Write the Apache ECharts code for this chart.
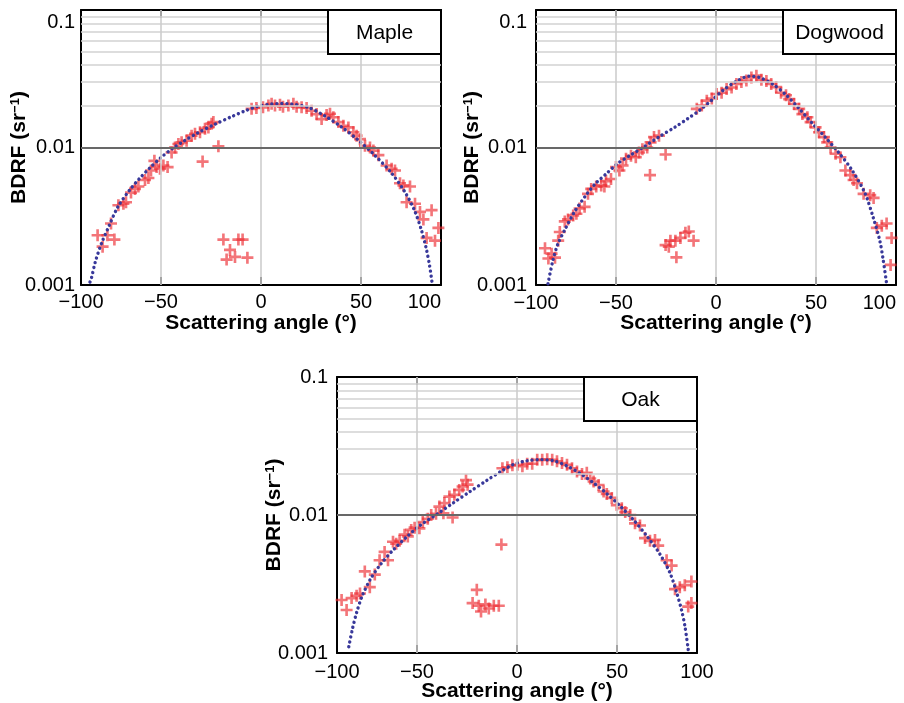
<!DOCTYPE html>
<html><head><meta charset="utf-8">
<script src="https://cdn.jsdelivr.net/npm/echarts@6/dist/echarts.min.js"></script>
<style>html,body{margin:0;padding:0;background:#fff}#c{width:904px;height:703px}</style>
</head><body><div id="c"></div>
<script>
// ---------- data ----------
const panelNames = ['Maple', 'Dogwood', 'Oak'];
const xTickValues = [-50, 0, 50];
const xLabelValues = [-90, -50, 0, 50, 90];
const xLabelTexts = ['−100', '−50', '0', '50', '100'];
const yMinorGrid = [0.002,0.003,0.004,0.005,0.006,0.007,0.008,0.009,0.02,0.03,0.04,0.05,0.06,0.07,0.08,0.09];
const yMajorGrid = [0.01];

const mapleMeasured = [[-81.7,0.0023],[-79.2,0.0019],[-76.8,0.0023],[-73.3,0.00214],[-75,0.0028],[-71.3,0.0038],[-68.8,0.0039],[-67.5,0.0040],[-65,0.0047],[-63,0.0050],[-61.3,0.0052],[-58,0.0058],[-56.3,0.0060],[-55,0.0068],[-53.3,0.0080],[-52.2,0.0072],[-50.5,0.0070],[-48.8,0.0074],[-46.7,0.0072],[-44.7,0.0092],[-43,0.0100],[-41.3,0.0106],[-39.7,0.0109],[-37.2,0.0112],[-34.7,0.0122],[-33,0.0126],[-30.5,0.0129],[-28,0.0137],[-26.3,0.0140],[-24.7,0.0149],[-23.8,0.0153],[-21.3,0.0102],[-29.2,0.0079],
[-18.8,0.00214],[-11.3,0.00214],[-9.2,0.00214],[-15.5,0.0018],[-17.2,0.00153],[-13,0.0016],[-6.8,0.00158],
[-4.7,0.0191],[-2.3,0.0194],[1,0.0196],[3.7,0.0202],[5.3,0.0208],[7,0.0202],[9.5,0.0205],[11,0.0198],[13.7,0.0202],[16.2,0.0208],[17.8,0.0198],[20.3,0.0196],[22.8,0.0194],[25.3,0.0185],[27.8,0.0175],[30.3,0.0161],[32.8,0.0172],[34.5,0.0176],[36.2,0.0166],[38.7,0.0153],[41.2,0.0144],[43.7,0.0140],[46.2,0.0129],[47.8,0.0122],[49.5,0.0115],[52,0.0103],[54.5,0.0100],[56.2,0.0095],[58.7,0.0088],[62.8,0.0074],[65.3,0.0070],[67,0.0068],[69.5,0.0055],[71.2,0.0053],[74.5,0.0052],[72.8,0.0040],[77,0.0039],[79.5,0.0034],[81.2,0.0030],[85.3,0.0035],[82.8,0.0022],[87,0.0021],[88.7,0.0026]];
const mapleModel = [[-85.5,0.00105],[-84.8,0.00112],[-82.8,0.00148],[-79.8,0.00200],[-75.7,0.00275],[-71.5,0.00372],[-65.7,0.0049],[-60.7,0.00596],[-55.7,0.00708],[-49.8,0.00851],[-44,0.00989],[-38.2,0.01122],[-31.5,0.0128],[-23.2,0.01472],[-14.8,0.01675],[-8.2,0.0184],[-1.5,0.01995],[5.2,0.0207],[10,0.0209],[15.2,0.0207],[23.5,0.0196],[31.8,0.0170],[40.2,0.01413],[48.5,0.01135],[56.8,0.00881],[65.2,0.00653],[71.8,0.00479],[76.8,0.00347],[80.2,0.00251],[82.7,0.00182],[84.3,0.00138],[85.5,0.00105]];

const dogwoodMeasured = [[-85.5,0.00185],[-83.8,0.00156],[-82.2,0.00169],[-80.5,0.00158],[-78.9,0.0021],[-78.1,0.00243],[-75.6,0.0029],[-74,0.0030],[-71.4,0.0032],[-69.8,0.0033],[-68.2,0.0036],[-65.7,0.0037],[-64,0.0046],[-62.4,0.0050],[-59.9,0.0052],[-57.4,0.0053],[-55.8,0.0052],[-55,0.0057],[-52.5,0.0059],[-50,0.0072],[-48.3,0.0068],[-46.7,0.0074],[-45,0.0083],[-42.5,0.0087],[-40.1,0.0085],[-38.5,0.0092],[-36.8,0.0097],[-34.4,0.0100],[-32.7,0.0109],[-31,0.0119],[-28.5,0.0122],[-25.2,0.0089],[-33,0.0063],
[-25.2,0.00195],[-22.8,0.0021],[-20.3,0.0021],[-17.8,0.0022],[-15.3,0.0024],[-13.6,0.00245],[-11.2,0.0021],[-19.8,0.00159],[-23.6,0.0019],
[-9.6,0.0191],[-7.1,0.0202],[-4.6,0.0219],[-2.1,0.0227],[0.3,0.0245],[2.8,0.025],[5.3,0.0266],[7.8,0.0273],[10.2,0.029],[12.7,0.030],[15.2,0.0307],[17.7,0.0323],[20.2,0.0333],[22.7,0.0311],[25.2,0.0305],[27.6,0.029],[30.1,0.0275],[32.5,0.025],[35,0.024],[36.6,0.0225],[39,0.0207],[41.6,0.0191],[43.2,0.0175],[45.7,0.0166],[47.3,0.0153],[49.8,0.014],[51.5,0.0129],[54,0.0119],[55.6,0.0109],[57.3,0.010],[59.8,0.009],[62.2,0.0085],[64.7,0.0068],[67.2,0.0063],[68.8,0.0058],[70.5,0.0055],[73.8,0.0046],[77.1,0.0045],[78.8,0.0043],[80.4,0.0026],[82.9,0.0027],[85.3,0.0028],[87.8,0.0022],[87.3,0.00140]];
const dogwoodModel = [[-84,0.00102],[-81.5,0.00152],[-79,0.0020],[-75.7,0.0025],[-70.8,0.0034],[-65,0.0045],[-60.1,0.0055],[-55.1,0.0064],[-49.4,0.0076],[-42.7,0.00881],[-36.1,0.0101],[-28.7,0.0119],[-20.4,0.0141],[-13.9,0.0163],[-8.1,0.0187],[-1.5,0.0225],[3.5,0.0260],[10,0.0302],[16.7,0.0330],[21.6,0.0323],[28.2,0.0290],[34.8,0.0243],[41.4,0.0193],[48,0.01507],[54.6,0.01189],[61.2,0.00923],[67.8,0.00692],[74.4,0.00468],[78.6,0.0031],[81.9,0.0021],[83.6,0.00152],[85.2,0.00105]];

const oakMeasured = [[-87.7,0.00242],[-85.2,0.00205],[-82.7,0.0025],[-80.2,0.0026],[-78.5,0.0027],[-76.1,0.0039],[-73.6,0.0030],[-71.1,0.0037],[-68.7,0.0047],[-66.2,0.0054],[-64.5,0.0047],[-62,0.0064],[-60.4,0.0062],[-58.7,0.0065],[-56.2,0.0072],[-54.6,0.0070],[-52.9,0.0078],[-51.2,0.0081],[-48.8,0.0080],[-47.1,0.0089],[-44.6,0.0094],[-42.9,0.0100],[-40.5,0.0102],[-38.8,0.0115],[-36.3,0.0122],[-33.8,0.0136],[-31.3,0.0140],[-28.9,0.0152],[-27.2,0.0161],[-25.5,0.0179],[-24.7,0.0166],[-32.2,0.0096],[-36.8,0.0103],[-7.8,0.0061],
[-20.1,0.00287],[-22.2,0.0023],[-19.1,0.0022],[-15.8,0.00225],[-14.1,0.0021],[-11.6,0.0022],[-9.1,0.0022],[-18,0.0020],
[-7.3,0.0218],[-4.8,0.0222],[-2.3,0.0229],[0.2,0.0231],[2.7,0.0226],[5.1,0.0235],[7.6,0.0235],[10.1,0.0251],[12.6,0.0251],[15.1,0.0253],[17.6,0.0251],[20,0.0245],[22.5,0.0238],[25,0.0231],[27.5,0.0218],[30,0.0207],[32.5,0.0198],[34.9,0.0202],[36.6,0.0184],[38.3,0.0175],[40.8,0.0165],[43.3,0.0148],[44.9,0.0142],[47.4,0.0133],[49.9,0.0118],[52.4,0.0112],[54.1,0.0105],[56.6,0.0100],[59,0.0087],[61.5,0.0084],[64,0.0068],[66.5,0.0065],[69,0.0066],[70.6,0.0060],[74.8,0.0047],[77.3,0.0043],[79,0.0029],[81.4,0.0030],[83.9,0.0031],[87.2,0.0033],[85.6,0.00217],[87.2,0.0023]];
const oakModel = [[-84.1,0.00111],[-82.4,0.00147],[-80.2,0.00196],[-77.5,0.00257],[-73.3,0.00343],[-68.3,0.00437],[-61.7,0.00562],[-55.1,0.00695],[-48.4,0.00841],[-40.1,0.01012],[-31.8,0.01225],[-23.5,0.01479],[-15.2,0.01778],[-7.8,0.0208],[-1.2,0.02344],[5.1,0.0247],[11.8,0.0252],[18.4,0.0247],[25,0.02265],[31.7,0.01995],[38.3,0.01706],[44.9,0.01429],[51.6,0.01161],[58.2,0.00923],[64.8,0.00708],[71.5,0.00519],[76.5,0.0038],[79.8,0.00275],[82.3,0.00204],[84,0.00155],[85.6,0.00106]];

const measuredSets = [mapleMeasured, dogwoodMeasured, oakMeasured];
const modelSets = [mapleModel, dogwoodModel, oakModel];

// ---------- layout / style ----------
const FONT = '"Liberation Sans", Arial, Helvetica, sans-serif';
const layouts = [
  {left:81,  top:10,  width:360, height:275, yNameGap:51, yLabMargin:6, xLabMargin:7, topPad:24, alignMax:'right'},
  {left:536, top:10,  width:360, height:275, yNameGap:53, yLabMargin:9, xLabMargin:8, topPad:24, alignMax:'right'},
  {left:337, top:377, width:360, height:276, yNameGap:52, yLabMargin:9, xLabMargin:9, topPad:0,  alignMax:'center'}
];
const plusPath = 'path://M3.9,0H6.1V3.9H10V6.1H6.1V10H3.9V6.1H0V3.9H3.9Z';

const grid = [], xAxis = [], yAxis = [], series = [], graphic = [];

layouts.forEach((L, i) => {
  grid.push({left:L.left, top:L.top, width:L.width, height:L.height, containLabel:false, show:false});
  const tickStyle = {color:'#000', width:2};
  const xBase = {type:'value', gridIndex:i, min:-90, max:90, splitLine:{show:false},
    axisLine:{show:true, onZero:false, lineStyle:{color:'#000', width:2}}};
  xAxis.push(Object.assign({}, xBase, {
    position:'bottom',
    name:'Scattering angle (°)', nameLocation:'middle', nameGap:28, nameMoveOverlap:false,
    nameTextStyle:{fontFamily:FONT, fontSize:21, fontWeight:'bold', color:'#000'},
    axisTick:{show:true, inside:true, length:8, customValues:xTickValues, lineStyle:tickStyle},
    axisLabel:{show:true, customValues:xLabelValues, margin:L.xLabMargin, fontFamily:FONT, fontSize:20, color:'#000',
      alignMaxLabel:L.alignMax, showMinLabel:true, showMaxLabel:true,
      formatter: v => { const k = xLabelValues.indexOf(v); return k >= 0 ? xLabelTexts[k] : ''; }}
  }));
  xAxis.push(Object.assign({}, xBase, {
    position:'top',
    axisTick:{show:true, inside:true, length:8, customValues:xTickValues, lineStyle:tickStyle},
    axisLabel:{show:false}
  }));
  const yBase = {type:'log', logBase:10, gridIndex:i, min:0.001, max:0.1, splitLine:{show:false},
    axisLine:{show:true, onZero:false, lineStyle:{color:'#000', width:2}},
    axisTick:{show:true, inside:true, length:11, lineStyle:tickStyle}};
  yAxis.push(Object.assign({}, yBase, {
    position:'left',
    name:'{b|BDRF (sr}{s|−1}{b|)}', nameLocation:'middle', nameRotate:90, nameGap:L.yNameGap,
    nameMoveOverlap:false,
    nameTextStyle:{rich:{
      b:{fontFamily:FONT, fontSize:21, fontWeight:'bold', color:'#000'},
      s:{fontFamily:FONT, fontSize:13, fontWeight:'bold', color:'#000', verticalAlign:'top'}
    }},
    axisLabel:{show:true, margin:L.yLabMargin, fontFamily:FONT, fontSize:20, color:'#000',
      showMinLabel:true, showMaxLabel:true,
      formatter: v => {
        if (Math.abs(v - 0.1) < 1e-9) return '{t|0.1}';
        if (Math.abs(v - 0.01) < 1e-9) return '0.01';
        if (Math.abs(v - 0.001) < 1e-9) return '0.001';
        return '';
      },
      rich:{t:{fontFamily:FONT, fontSize:20, color:'#000', padding:[L.topPad,0,0,0]}}
    }
  }));
  yAxis.push(Object.assign({}, yBase, {position:'right', axisLabel:{show:false}}));

  const xi = 2*i, yi = 2*i;
  series.push({
    type:'line', xAxisIndex:xi, yAxisIndex:yi, data:[], silent:true, z:1,
    markLine:{silent:true, symbol:['none','none'], animation:false, label:{show:false},
      emphasis:{disabled:true},
      data:[
        ...yMinorGrid.map(v => ({yAxis:v, lineStyle:{color:'#d2d2d2', width:1.6, type:'solid'}})),
        ...xTickValues.map(v => ({xAxis:v, lineStyle:{color:'#cdcdcd', width:1.6, type:'solid'}})),
        ...yMajorGrid.map(v => ({yAxis:v, lineStyle:{color:'#686868', width:2, type:'solid'}}))
      ]}
  });
  series.push({
    type:'scatter', name:panelNames[i] + ' measured', xAxisIndex:xi, yAxisIndex:yi,
    data:measuredSets[i], symbol:plusPath, symbolSize:12, z:3,
    itemStyle:{color:'rgba(236,45,50,0.82)'}, silent:true
  });
  series.push({
    type:'line', name:panelNames[i] + ' model', xAxisIndex:xi, yAxisIndex:yi,
    data:modelSets[i], smooth:0.3, showSymbol:false, z:4, silent:true,
    lineStyle:{color:'#38389a', width:3.4, type:[0.01, 5], cap:'round'}
  });

  const bw = 113, bh = 44;
  const bx = L.left + L.width - bw, by = L.top;
  graphic.push({type:'rect', z:100, zlevel:1, shape:{x:bx, y:by, width:bw, height:bh},
    style:{fill:'#fff', stroke:'#000', lineWidth:2}});
  graphic.push({type:'text', z:101, zlevel:1,
    style:{text:panelNames[i], x:bx + bw/2, y:by + bh/2 + 1, align:'center', verticalAlign:'middle',
      fontFamily:FONT, fontSize:21, fill:'#000'}});
});

const chart = echarts.init(document.getElementById('c'), null, {renderer:'canvas'});
chart.setOption({animation:false, backgroundColor:'#fff', grid, xAxis, yAxis, series, graphic});
</script>
</body></html>
